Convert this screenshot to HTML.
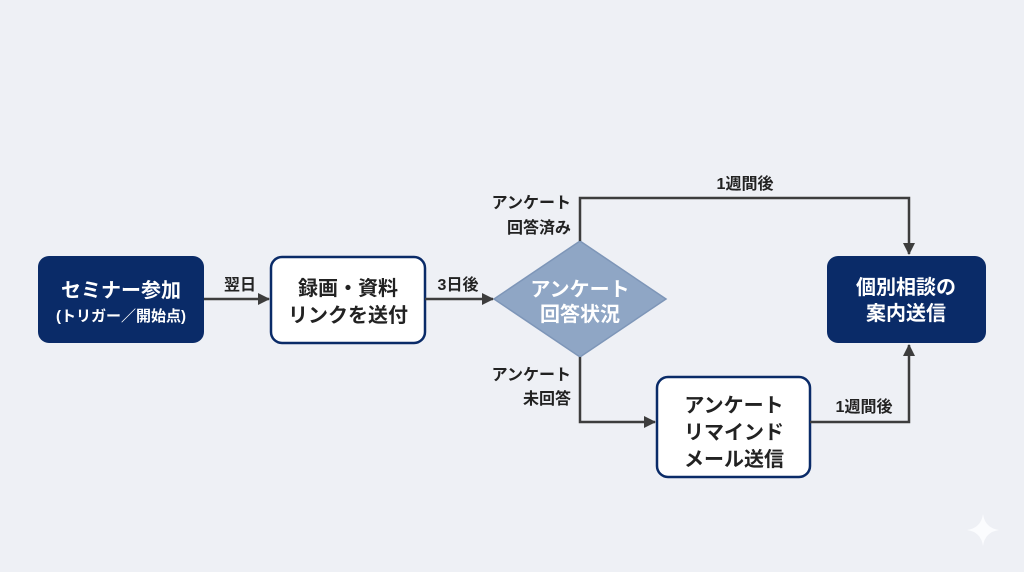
<!DOCTYPE html>
<html><head><meta charset="utf-8"><style>
body{margin:0;width:1024px;height:572px;background:#eef0f5;overflow:hidden;font-family:"Liberation Sans","Noto Sans CJK JP",sans-serif;}
</style></head><body>
<svg width="1024" height="572" viewBox="0 0 1024 572" xmlns="http://www.w3.org/2000/svg" style="position:absolute;left:0;top:0">
<defs><marker id="a" markerWidth="12" markerHeight="12" refX="11" refY="6" orient="auto" markerUnits="userSpaceOnUse"><path d="M0,0 L12,6 L0,12 z" fill="#3d3d3d"/></marker></defs>
<g font-family="Liberation Sans, Noto Sans CJK JP, sans-serif">
<rect x="38" y="256" width="166" height="87" rx="11" fill="#0a2b68"/>
<text x="121" y="297" fill="#fff" font-size="20" font-weight="bold" text-anchor="middle">セミナー参加</text>
<text x="121" y="321" fill="#fff" font-size="15" font-weight="bold" text-anchor="middle">(トリガー／開始点)</text>
<rect x="271" y="257" width="154" height="86" rx="11" fill="#fff" stroke="#0a2b68" stroke-width="2.5"/>
<text x="348" y="295" fill="#222" font-size="20" font-weight="bold" text-anchor="middle">録画・資料</text>
<text x="348" y="322" fill="#222" font-size="20" font-weight="bold" text-anchor="middle">リンクを送付</text>
<polygon points="580,241 666,299 580,357 494,299" fill="#8fa6c5" stroke="#7e96b8" stroke-width="1.5"/>
<text x="580" y="296" fill="#fff" font-size="20" font-weight="bold" text-anchor="middle">アンケート</text>
<text x="580" y="321" fill="#fff" font-size="20" font-weight="bold" text-anchor="middle">回答状況</text>
<rect x="827" y="256" width="159" height="87" rx="11" fill="#0a2b68"/>
<text x="906" y="294" fill="#fff" font-size="20" font-weight="bold" text-anchor="middle">個別相談の</text>
<text x="906" y="320" fill="#fff" font-size="20" font-weight="bold" text-anchor="middle">案内送信</text>
<rect x="657" y="377" width="153" height="100" rx="11" fill="#fff" stroke="#0a2b68" stroke-width="2.5"/>
<text x="734" y="412" fill="#222" font-size="20" font-weight="bold" text-anchor="middle">アンケート</text>
<text x="734" y="439" fill="#222" font-size="20" font-weight="bold" text-anchor="middle">リマインド</text>
<text x="734" y="466" fill="#222" font-size="20" font-weight="bold" text-anchor="middle">メール送信</text>
<g stroke="#3d3d3d" stroke-width="2.5" fill="none">
<line x1="204" y1="299" x2="269" y2="299" marker-end="url(#a)"/>
<line x1="425" y1="299" x2="493" y2="299" marker-end="url(#a)"/>
<polyline points="580,241 580,198 909,198 909,254" marker-end="url(#a)"/>
<polyline points="580,357 580,422 655,422" marker-end="url(#a)"/>
<polyline points="810,422 909,422 909,345" marker-end="url(#a)"/>
</g>
<g fill="#222" font-size="16" font-weight="bold">
<text x="240" y="290" text-anchor="middle">翌日</text>
<text x="458" y="290" text-anchor="middle">3日後</text>
<text x="745" y="189" text-anchor="middle">1週間後</text>
<text x="864" y="412" text-anchor="middle">1週間後</text>
<text x="571" y="208" text-anchor="end">アンケート</text>
<text x="571" y="233" text-anchor="end">回答済み</text>
<text x="571" y="380" text-anchor="end">アンケート</text>
<text x="571" y="404" text-anchor="end">未回答</text>
</g>
</g>
<path d="M983,514 Q985,528 999,530 Q985,532 983,546 Q981,532 967,530 Q981,528 983,514z" fill="#fbfcfe"/>
</svg>
</body></html>
